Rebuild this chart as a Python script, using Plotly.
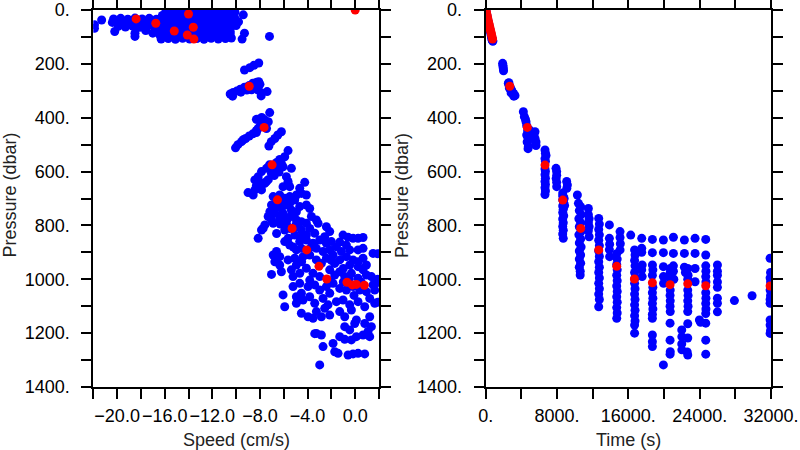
import plotly.graph_objects as go

# ---------------- LEFT PANEL: Speed (cm/s) vs Pressure (dbar) ----------------
# blue points, grouped by cluster: (speed, pressure)
left_top_blob = [
    (-15.9, 5), (-15.3, 4), (-14.7, 6), (-14.1, 3), (-13.5, 5), (-12.9, 4), (-12.3, 6), (-11.7, 3), (-11.1, 5), (-10.5, 4), (-10.1, 8),
    (-16.2, 20), (-15.6, 17), (-15.0, 19), (-14.4, 18), (-13.8, 21), (-13.2, 17), (-12.6, 19), (-12.0, 18), (-11.4, 20), (-10.8, 17), (-10.2, 21), (-9.4, 18),
    (-21.3, 37), (-20.3, 33), (-19.7, 31), (-19.1, 34), (-18.5, 30), (-17.9, 33), (-17.3, 31), (-16.7, 34), (-16.1, 30), (-15.5, 33), (-14.9, 31),
    (-14.3, 34), (-13.7, 30), (-13.1, 33), (-12.5, 31), (-11.9, 34), (-11.3, 30), (-10.7, 33), (-10.1, 31),
    (-20.4, 46), (-19.8, 48), (-19.2, 45), (-18.6, 49), (-18.0, 46), (-17.4, 48), (-16.8, 45), (-16.2, 49), (-15.6, 46), (-15.0, 48),
    (-14.4, 45), (-13.8, 49), (-13.2, 46), (-12.6, 48), (-12.0, 45), (-11.4, 49), (-10.8, 46), (-10.2, 52), (-9.8, 44),
    (-21.9, 55), (-21.9, 68), (-19.9, 61), (-19.3, 63), (-18.7, 60), (-18.1, 64), (-17.5, 61), (-16.9, 63), (-16.3, 60), (-15.7, 64),
    (-15.1, 61), (-14.5, 63), (-13.9, 60), (-13.3, 64), (-12.7, 61), (-12.1, 63), (-11.5, 60), (-10.9, 64), (-10.4, 61), (-10.0, 58),
    (-20.2, 80), (-18.5, 86), (-17.6, 76), (-17.0, 86), (-16.4, 79), (-15.8, 77), (-15.2, 80), (-14.6, 76), (-14.0, 79), (-13.4, 77),
    (-12.8, 80), (-12.2, 76), (-11.6, 79), (-11.0, 77), (-10.5, 80),
    (-18.5, 98), (-16.4, 94), (-15.8, 92), (-15.2, 95), (-14.6, 91), (-14.0, 94), (-13.4, 92), (-12.8, 95), (-12.2, 91), (-11.6, 94),
    (-11.0, 92), (-10.5, 88), (-9.3, 86),
    (-16.3, 108), (-15.7, 106), (-15.1, 109), (-14.5, 105), (-13.9, 108), (-13.3, 106), (-12.7, 109), (-12.1, 105), (-11.5, 108),
    (-10.9, 106), (-10.4, 104), (-9.5, 108), (-7.2, 98),
]
left_cluster_a = [(-9.3, 223), (-8.85, 214), (-8.5, 205), (-8.1, 197)]
left_cluster_b = [
    (-10.5, 312), (-10.3, 320), (-10.25, 306), (-9.95, 301), (-9.65, 294), (-9.6, 305), (-9.3, 287), (-9.1, 297), (-8.9, 280),
    (-8.9, 292), (-8.7, 296), (-8.6, 272), (-8.3, 268), (-8.1, 266), (-8.0, 276), (-8.15, 297), (-7.9, 307), (-7.9, 319),
    (-7.4, 303), (-8.4, 285),
]
left_cluster_c = [
    (-7.18, 381), (-8.3, 406), (-7.85, 399), (-7.6, 408), (-7.9, 420), (-7.3, 415), (-7.7, 427), (-8.0, 432), (-8.15, 440),
    (-7.45, 440), (-8.3, 447), (-8.3, 455), (-8.6, 460), (-8.9, 468), (-9.2, 477), (-9.4, 482), (-9.55, 489), (-9.85, 500),
    (-10.05, 512), (-6.2, 452), (-6.5, 464), (-6.75, 477), (-7.05, 489), (-7.25, 505),
]
left_cluster_d = [
    (-5.64, 522), (-5.92, 545), (-6.34, 555), (-6.6, 566), (-6.2, 570), (-7.2, 575), (-6.9, 582), (-7.45, 588), (-6.62, 594),
    (-6.06, 582), (-5.36, 588), (-7.87, 600), (-7.04, 607), (-6.4, 602), (-8.15, 619), (-6.8, 615), (-5.78, 619), (-8.43, 631),
    (-7.3, 630), (-8.0, 640), (-7.6, 644), (-5.64, 637), (-4.24, 640), (-8.3, 652), (-5.5, 656), (-7.87, 668), (-9.0, 678),
    (-8.57, 687), (-7.73, 644), (-7.45, 637), (-8.43, 668), (-6.06, 656), (-5.64, 644),
]
left_lower_cloud = [
    (-6.89, 693), (-6.34, 687), (-5.92, 699), (-5.5, 693), (-4.94, 687), (-4.52, 681), (-4.1, 687), (-6.06, 712), (-7.03, 724),
    (-6.61, 730), (-6.2, 737), (-5.78, 724), (-5.36, 743), (-4.94, 749), (-4.66, 730), (-4.1, 724), (-3.82, 737), (-7.17, 749),
    (-6.75, 755), (-6.06, 755), (-5.08, 706), (-4.66, 662), (-5.5, 718), (-6.4, 715),
    (-7.31, 767), (-7.03, 780), (-6.89, 792), (-7.59, 798), (-6.34, 774), (-5.64, 774), (-5.36, 761), (-4.94, 780), (-4.52, 786),
    (-4.1, 792), (-3.26, 780), (-3.12, 792), (-5.78, 792), (-3.68, 767), (-6.3, 795), (-5.0, 800),
    (-7.87, 817), (-7.73, 811), (-8.15, 848), (-5.92, 817), (-5.5, 811), (-4.94, 805), (-4.52, 817), (-3.82, 811), (-3.4, 829),
    (-2.42, 805), (-2.14, 823), (-2.56, 842), (-5.64, 848), (-5.08, 836), (-4.1, 836), (-1.02, 836), (-0.6, 844), (-0.18, 848),
    (0.24, 848), (0.66, 845), (-6.6, 830), (-4.6, 845),
    (-5.92, 860), (-5.5, 873), (-4.66, 860), (-4.1, 854), (-3.54, 866), (-2.98, 854), (-2.42, 866), (-2.0, 860), (-1.58, 879),
    (-0.74, 873), (0.24, 891), (0.66, 885), (-6.61, 897), (-4.94, 891), (-4.52, 885), (-3.26, 885), (-2.7, 897), (-2.14, 891),
    (-1.16, 897), (-0.46, 891), (-3.68, 879), (-5.2, 880), (-1.3, 862),
    (-6.89, 910), (-6.34, 916), (-6.75, 935), (-5.64, 928), (-5.08, 922), (-4.38, 916), (-3.82, 910), (-3.26, 928), (-2.84, 941),
    (-2.42, 922), (-1.86, 910), (-1.3, 928), (-0.74, 916), (-0.18, 928), (0.24, 935), (0.66, 922), (1.5, 904), (0.94, 947),
    (0.24, 953), (-0.46, 947), (-6.34, 947), (-4.94, 947), (-1.72, 941), (-4.5, 935), (-2.0, 930),
    (-7.03, 982), (-6.2, 972), (-5.36, 965), (-5.22, 990), (-4.66, 978), (-4.1, 959), (-3.54, 978), (-3.82, 1003), (-2.98, 990),
    (-2.14, 965), (-1.72, 984), (-1.3, 972), (-0.88, 990), (-0.32, 978), (0.24, 996), (0.94, 984), (1.36, 990), (1.64, 1003),
    (-2.28, 1003), (0.66, 965), (-1.0, 960), (-0.5, 1000),
    (-5.22, 1027), (-4.66, 1015), (-6.06, 1058), (-3.96, 1027), (-3.4, 1021), (-2.98, 1040), (-2.42, 1027), (-1.86, 1015),
    (-1.3, 1034), (-0.74, 1040), (-0.18, 1027), (0.38, 1040), (0.94, 1046), (1.5, 1021), (-2.14, 1052), (-4.52, 1052),
    (1.64, 1040), (-1.0, 1010), (0.5, 1010),
    (-5.92, 1102), (-4.94, 1089), (-4.38, 1077), (-3.82, 1065), (-3.4, 1089), (-2.7, 1071), (-2.28, 1095), (-1.58, 1083),
    (-1.02, 1077), (-0.46, 1095), (0.24, 1083), (0.8, 1102), (1.22, 1071), (1.64, 1089), (-4.94, 1065), (-0.1, 1060),
    (-4.52, 1126), (-3.96, 1139), (-3.26, 1120), (-2.56, 1108), (-2.14, 1133), (-1.3, 1120), (-0.88, 1139), (-0.32, 1114),
    (0.1, 1151), (0.8, 1164), (1.22, 1139), (-3.54, 1145), (-2.84, 1139),
    (-0.88, 1176), (-0.04, 1164), (1.36, 1176), (-0.46, 1188), (1.08, 1194), (-3.26, 1201), (-2.84, 1207), (-1.3, 1213), (-3.4, 1202),
    (-2.7, 1250), (-1.86, 1238), (-0.88, 1223), (-0.32, 1225), (0.1, 1213), (0.66, 1207), (1.22, 1213),
    (-1.72, 1269), (-1.44, 1275), (-0.6, 1281), (-0.18, 1277), (0.24, 1275), (0.8, 1277), (-2.98, 1318),
    (1.9, 1000), (1.9, 1012), (1.9, 1085), (1.9, 905),
]
# red points (means)
left_red = [
    (-18.4, 33), (-16.75, 49), (-14.0, 15), (-13.6, 64), (-15.2, 78), (-14.1, 93), (-13.55, 108), (0.0, 0),
    (-8.9, 283), (-7.65, 436), (-6.98, 575), (-6.53, 705), (-5.3, 811), (-4.07, 891), (-3.04, 952), (-2.39, 999),
    (-0.69, 1011), (-0.24, 1021), (0.1, 1019), (0.77, 1022),
]

# ---------------- RIGHT PANEL: Time (s) vs Pressure (dbar) ----------------
right_top_streak = [
    (30, 2), (90, 12), (150, 22), (210, 32), (280, 42), (340, 52), (400, 62), (470, 72), (530, 82), (600, 92),
    (660, 100), (720, 106), (780, 112), (800, 116), (740, 113), (690, 108),
]
right_early = [
    (1900, 198), (1930, 205), (1950, 212), (1980, 218), (2000, 226),
    (2540, 272), (2600, 278), (2650, 290), (2726, 285), (2800, 295), (2850, 308), (2913, 298), (3000, 305), (3100, 310),
    (3150, 320), (3200, 314), (3287, 318), (2600, 270),
    (4222, 378), (4334, 396), (4450, 405), (4521, 415), (4600, 430), (4700, 448), (4783, 458), (4600, 464), (4700, 470),
    (4783, 483), (4650, 490), (4783, 507), (4750, 515), (4900, 445), (5157, 464), (5300, 470), (5531, 452), (5400, 462),
    (5531, 477), (5643, 490), (5643, 503),
    (6653, 520), (6700, 532), (6765, 540), (6650, 552), (6700, 562), (6650, 590), (6700, 600), (6650, 612), (6700, 625),
    (6650, 637), (6700, 648), (6650, 660), (6700, 672), (6650, 685), (7887, 588), (7960, 600), (7962, 614), (7900, 626),
    (7962, 640), (7962, 656), (9084, 637), (9159, 650), (9100, 662),
]
right_mid = [
    (8636, 680), (8700, 692), (8636, 705), (8750, 716), (8636, 728), (8700, 740), (8636, 752), (8750, 764), (8636, 776),
    (8700, 790), (8636, 804), (8700, 818), (8636, 832), (8700, 848), (8800, 700), (8850, 726), (8636, 690),
    (10282, 687), (10400, 718), (10650, 730), (10500, 745), (10700, 760), (10450, 775), (10650, 790), (10500, 805),
    (10700, 822), (10450, 835), (10650, 850), (10500, 865), (10700, 880), (10500, 895), (10650, 910), (10500, 925),
    (10650, 940), (10500, 955), (10600, 970), (10600, 984),
    (11516, 737), (11516, 760), (11600, 775), (11516, 790), (11600, 805), (11516, 820), (11600, 842),
    (12675, 774), (12750, 795), (12675, 815), (12750, 835), (12675, 855), (12750, 875), (12675, 895), (12750, 915),
    (12675, 935), (12750, 955), (12675, 975), (12750, 995), (12675, 1015), (12750, 1035), (12675, 1055), (12750, 1075),
    (12675, 1102),
    (13872, 798), (13872, 848), (13900, 870), (13872, 890), (13900, 916),
    (15069, 823), (15069, 845), (15100, 868), (15069, 891),
    (14695, 905), (14750, 925), (14695, 945), (14750, 965), (14695, 985), (14750, 1005), (14695, 1025), (14750, 1045),
    (14695, 1065), (14750, 1085), (14695, 1105), (14750, 1125), (14695, 1145),
]
right_late = [
    (16266, 836),
    (16700, 891), (16750, 910), (16700, 930), (16750, 950), (16700, 975), (16750, 995), (16700, 1015), (16750, 1035),
    (16700, 1055), (16750, 1075), (16700, 1095), (16750, 1115), (16700, 1135), (16750, 1155), (16700, 1170), (16700, 1200),
    (17500, 848), (17500, 885), (17500, 900), (17550, 947), (17500, 965), (17550, 990),
    (18696, 852), (18696, 901), (18700, 947), (18750, 965), (18696, 985), (18750, 1030), (18696, 1050), (18750, 1070),
    (18696, 1090), (18750, 1110), (18696, 1130), (18696, 1145), (18696, 1207), (18696, 1232), (18696, 1250),
    (19931, 854), (19931, 901), (19931, 953), (19931, 990), (19950, 1015), (19931, 1318),
    (20700, 960), (20700, 975), (20679, 995), (20700, 1040), (20679, 1060), (20700, 1080), (20679, 1100), (20700, 1120),
    (20679, 1163), (20679, 1226), (20700, 1269), (20679, 1278),
    (21053, 844), (21053, 904), (21053, 950), (21053, 970), (21100, 1000),
    (21988, 1188), (22000, 1213), (21988, 1240), (22000, 1262),
    (22287, 854), (22287, 904), (22287, 955), (22400, 975), (22661, 960), (22700, 985), (22661, 1000), (22661, 1040),
    (22700, 1060), (22661, 1080), (22700, 1100), (22661, 1120), (22661, 1165), (22661, 1218), (22661, 1281), (22600, 1270),
    (23484, 848), (23484, 904), (23484, 960), (23484, 1009),
    (23970, 1151), (24100, 1160),
    (24681, 852), (24681, 910), (24681, 950), (24700, 970), (24681, 990), (24700, 1010), (24681, 1050), (24700, 1070),
    (24681, 1090), (24700, 1110), (24681, 1127), (24681, 1163), (24681, 1226), (24681, 1278),
    (25990, 947), (25990, 970), (25990, 985), (25990, 1010), (25990, 1030), (25990, 1070), (25990, 1089), (25990, 1121),
    (27896, 1079), (29878, 1061),
    (31899, 922), (31950, 975), (31899, 995), (31950, 1010), (31899, 1040), (31950, 1060), (31899, 1075), (31899, 1089),
    (31899, 1151), (31899, 1170), (31950, 1190), (31899, 1201),
]
right_red = [
    (20, 0), (75, 8), (130, 16), (190, 25), (245, 33), (305, 42), (360, 50), (420, 58), (480, 67), (540, 75), (600, 83),
    (660, 92), (715, 100), (770, 108),
    (2700, 283), (4671, 436), (6653, 576), (8650, 706), (10656, 811), (12675, 891), (14695, 952), (16677, 999),
    (18696, 1013), (20679, 1020), (22661, 1017), (24681, 1024), (31899, 1025),
]

# tick definitions
pres_tickvals = [0, 100, 200, 300, 400, 500, 600, 700, 800, 900, 1000, 1100, 1200, 1300, 1400]
pres_ticktext = ["0.", "", "200.", "", "400.", "", "600.", "", "800.", "", "1000.", "", "1200.", "", "1400."]
speed_tickvals = [-22, -20, -18, -16, -14, -12, -10, -8, -6, -4, -2, 0, 2]
speed_ticktext = ["", "\u221220.0", "", "\u221216.0", "", "\u221212.0", "", "\u22128.0", "", "\u22124.0", "", "0.0", ""]
time_tickvals = [0, 4000, 8000, 12000, 16000, 20000, 24000, 28000, 32000]
time_ticktext = ["0.", "", "8000.", "", "16000.", "", "24000.", "", "32000."]

BLUE = "#0000FF"
RED = "#FF0000"
MS = 9
FONT = "Liberation Sans, Arial, sans-serif"

left_blue = left_top_blob + left_cluster_a + left_cluster_b + left_cluster_c + left_cluster_d + left_lower_cloud
right_blue = right_top_streak + right_early + right_mid + right_late

fig = go.Figure()
fig.add_trace(go.Scatter(x=[p[0] for p in left_blue], y=[p[1] for p in left_blue], mode="markers",
                         marker=dict(color=BLUE, size=MS, line=dict(width=0)), xaxis="x", yaxis="y", showlegend=False))
fig.add_trace(go.Scatter(x=[p[0] for p in left_red], y=[p[1] for p in left_red], mode="markers",
                         marker=dict(color=RED, size=MS, line=dict(width=0)), xaxis="x", yaxis="y", showlegend=False))
fig.add_trace(go.Scatter(x=[p[0] for p in right_blue], y=[p[1] for p in right_blue], mode="markers",
                         marker=dict(color=BLUE, size=MS, line=dict(width=0)), xaxis="x2", yaxis="y2", showlegend=False))
fig.add_trace(go.Scatter(x=[p[0] for p in right_red], y=[p[1] for p in right_red], mode="markers",
                         marker=dict(color=RED, size=MS, line=dict(width=0)), xaxis="x2", yaxis="y2", showlegend=False))

W, H = 800, 450
L1, R1 = 93.3, 379.0
L2, R2 = 485.7, 771.0
T, B = 10.0, 387.0

axis_common = dict(showline=True, linecolor="#000000", linewidth=2, mirror="ticks", ticks="outside",
                   ticklen=10, tickwidth=2, tickcolor="#000000", showgrid=False, zeroline=False,
                   automargin=False, tickangle=0,
                   tickfont=dict(family=FONT, size=18, color="#000000"))

fig.update_layout(
    width=W, height=H, margin=dict(l=0, r=0, t=0, b=0, autoexpand=False),
    paper_bgcolor="white", plot_bgcolor="white",
    xaxis=dict(domain=[L1 / W, R1 / W], range=[-22, 2], tickmode="array", tickvals=speed_tickvals,
               ticktext=speed_ticktext, anchor="y", ticklabelstandoff=1, **axis_common),
    yaxis=dict(domain=[1 - B / H, 1 - T / H], range=[1400, 0], tickmode="array", tickvals=pres_tickvals,
               ticktext=pres_ticktext, anchor="x", ticklabelstandoff=8, **axis_common),
    xaxis2=dict(domain=[L2 / W, R2 / W], range=[0, 32000], tickmode="array", tickvals=time_tickvals,
                ticktext=time_ticktext, anchor="y2", ticklabelstandoff=1, **axis_common),
    yaxis2=dict(domain=[1 - B / H, 1 - T / H], range=[1400, 0], tickmode="array", tickvals=pres_tickvals,
                ticktext=pres_ticktext, anchor="x2", ticklabelstandoff=8, **axis_common),
)

title_font = dict(family=FONT, size=18, color="#222222")
fig.add_annotation(text="Speed (cm/s)", x=(L1 + R1) / 2 / W, y=1 - 440 / H, xref="paper", yref="paper",
                   showarrow=False, font=title_font, xanchor="center", yanchor="middle")
fig.add_annotation(text="Time (s)", x=(L2 + R2) / 2 / W, y=1 - 440 / H, xref="paper", yref="paper",
                   showarrow=False, font=title_font, xanchor="center", yanchor="middle")
fig.add_annotation(text="Pressure (dbar)", x=9.5 / W, y=1 - 195 / H, xref="paper", yref="paper",
                   showarrow=False, font=title_font, textangle=-90, xanchor="center", yanchor="middle")
fig.add_annotation(text="Pressure (dbar)", x=402 / W, y=1 - 195 / H, xref="paper", yref="paper",
                   showarrow=False, font=title_font, textangle=-90, xanchor="center", yanchor="middle")

# remove the default page margin so the 800x450 figure fills the window exactly
fig.write_html("out.html", config={"displayModeBar": False},
               post_script="document.body.style.margin='0';")
